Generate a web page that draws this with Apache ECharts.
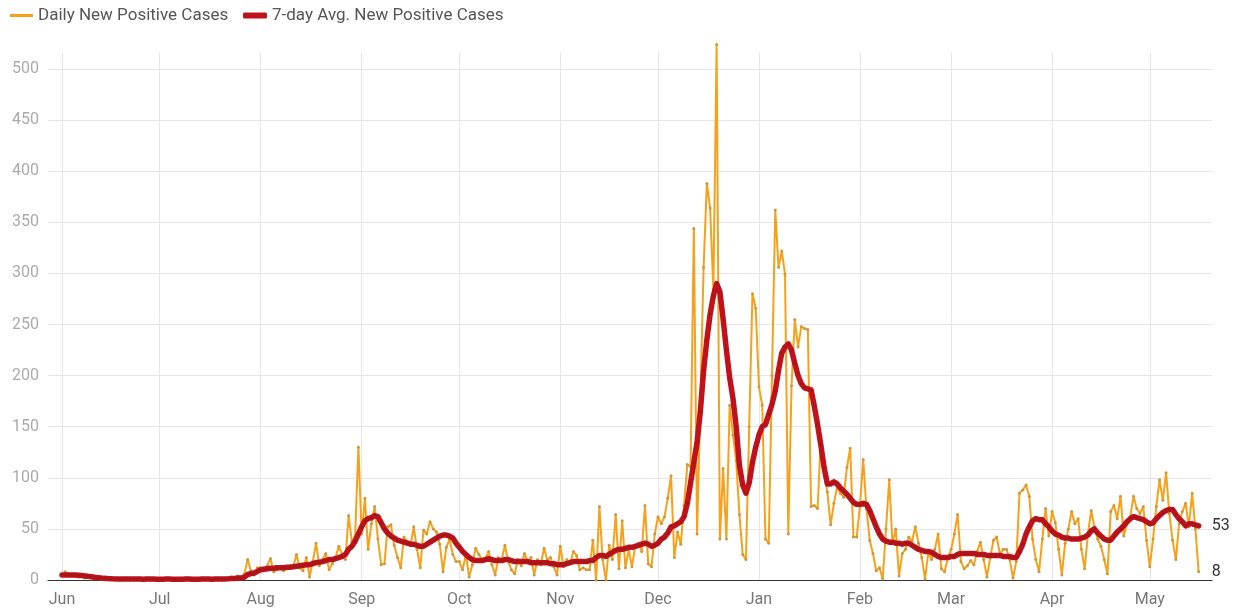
<!DOCTYPE html>
<html>
<head>
<meta charset="utf-8">
<script src="https://cdn.jsdelivr.net/npm/echarts@6/dist/echarts.min.js"></script>
<style>
html,body{margin:0;padding:0;background:#fff;}
#chart{width:1242px;height:612px;}
</style>
</head>
<body>
<div id="chart"></div>
<script>
// ---- Data (Jun 1, 2020 .. May 16, 2021), one value per day ----
const startYear = 2020, startMonth = 5; // June (0-based)
const monthLabels = ['Jun','Jul','Aug','Sep','Oct','Nov','Dec','Jan','Feb','Mar','Apr','May'];
const seriesNames = ['Daily New Positive Cases', '7-day Avg. New Positive Cases'];

// Daily new positive cases
const dailyJun = [5,8,6,4,5,3,4,2,3,1,2,2,1,0,1,2,0,1,1,0,2,1,0,1,0,1,2,0,1,0];
const dailyJul = [1,0,2,1,0,1,1,0,2,1,0,1,0,2,1,1,0,1,2,0,1,2,3,1,4,2,6,20,9,5,12];
const dailyAug = [12,9,14,21,8,10,12,9,11,14,13,25,12,9,22,3,18,36,14,20,26,10,16,22,33,25,20,63,38,42,130];
const dailySep = [45,80,30,55,72,40,15,16,52,54,34,22,12,42,38,34,52,30,12,49,45,57,50,47,35,8,32,40,25,18];
const dailyOct = [18,10,25,3,15,31,25,20,21,28,15,5,22,20,34,18,10,6,20,14,26,18,22,5,20,15,31,20,22,13,5];
const dailyNov = [33,13,20,16,28,24,10,12,10,10,39,0,72,20,0,34,20,64,11,58,12,30,13,33,36,28,73,16,13,45];
const dailyDec = [62,55,62,80,102,22,47,35,73,113,111,344,45,175,306,388,364,284,524,40,109,40,171,142,117,64,25,20,150,280,266];
const dailyJan = [189,171,40,36,200,362,306,322,299,45,190,255,228,248,246,245,72,73,70,140,104,86,54,75,91,85,81,110,129,42,42];
const dailyFeb = [72,118,70,39,26,9,12,1,50,98,36,50,4,26,30,42,38,52,36,22,1,27,20,30,45,11,8,22];
const dailyMar = [30,45,64,18,11,14,19,15,28,37,20,3,22,39,42,25,30,30,20,2,18,85,88,93,82,40,20,8,40,70,43];
const dailyApr = [67,56,30,5,36,50,67,55,60,30,11,45,68,52,40,33,20,6,67,73,60,82,43,55,62,82,70,65,72,39];
const dailyMay = [13,40,72,98,78,105,65,39,20,55,67,75,52,85,50,8];

// 7-day average new positive cases
const avgJun = [5,5,5,5,5,4.7,4.4,4,3.6,3.3,2.7,2.3,1.9,1.6,1.4,1.3,1.1,1,1,1,1,1,0.9,0.9,0.9,0.7,1,0.9,0.9,0.7];
const avgJul = [0.8,0.8,0.9,0.9,0.7,0.8,0.8,0.7,0.9,0.9,0.7,0.7,0.7,0.9,0.9,0.9,0.7,0.9,1,0.9,1,1.1,1.4,1.4,1.9,2,2.7,5.4,6.3,6.9,8.4];
const avgAug = [10,10.5,11,11.5,11.5,12,12,12,12.5,12.5,13,13.5,14,14.5,15,15,16,17,17.5,18,19,20,20,21,22,23,25,30,33,38,45];
const avgSep = [52,58,60,61,63,62,56,50,46,43,41,39,38,37,36,35,35,34,33,33,35,37,39,41,43,44,44,43,41,36];
const avgOct = [32,28,25,22,20,19,19,19,20,21,20,19,19,19,20,20,19,18,18,18,18,18,17,17,17,17,17,17,16,16,15];
const avgNov = [15,15,16,17,18,18,18,18,18,19,19,22,24,24,23,25,27,29,30,30,31,32,32,33,34,35,36,35,33,34];
const avgDec = [36,40,42,46,52,53,55,57,62,75,95,115,135,165,205,235,260,278,290,282,255,225,198,178,150,112,93,85,95,115,130];
const avgJan = [142,150,152,162,172,185,205,222,228,231,225,212,200,192,188,187,186,170,152,132,110,94,94,96,94,90,87,84,80,76,74];
const avgFeb = [74,75,74,68,60,52,45,40,38,37,37,36,36,35,36,36,34,32,30,29,28,28,27,25,23,22,22,22];
const avgMar = [23,23,25,26,26,26,26,26,25,25,25,24,24,24,24,24,23,23,23,22,22,28,35,45,52,58,60,59,59,55,52];
const avgApr = [48,45,44,42,41,41,40,40,40,41,42,44,48,50,46,43,40,39,39,43,47,50,53,57,60,62,61,60,59,57];
const avgMay = [55,56,60,63,66,68,69,69,64,60,57,53,55,55,54,53];

// ---- Build series from the arrays ----
const daily = [].concat(dailyJun,dailyJul,dailyAug,dailySep,dailyOct,dailyNov,dailyDec,dailyJan,dailyFeb,dailyMar,dailyApr,dailyMay);
const avg = [].concat(avgJun,avgJul,avgAug,avgSep,avgOct,avgNov,avgDec,avgJan,avgFeb,avgMar,avgApr,avgMay);
const DAY = 86400000;
const t0 = Date.UTC(startYear, startMonth, 1);
const monthStarts = monthLabels.map((m, i) => Math.round((Date.UTC(startYear, startMonth + i, 1) - t0) / DAY));
const dailyData = daily.map((v, i) => [i, v]);
const avgData = avg.map((v, i) => [i, v]);

const chart = echarts.init(document.getElementById('chart'), null, {renderer: 'canvas'});
const FONT = 'Roboto, "Noto Sans", sans-serif';
chart.setOption({
  animation: false,
  backgroundColor: '#ffffff',
  textStyle: {fontFamily: FONT},
  legend: [
    {
      data: [{name: seriesNames[0], itemStyle: {color: '#F7A11A'}}],
      left: 5, top: 2, icon: 'rect', itemWidth: 23, itemHeight: 3,
      textStyle: {color: '#555', fontSize: 17, fontFamily: FONT},
      selectedMode: false
    },
    {
      data: [{name: seriesNames[1], itemStyle: {color: '#C1121C'}}],
      left: 238, top: 2, icon: 'roundRect', itemWidth: 24, itemHeight: 6,
      textStyle: {color: '#555', fontSize: 17, fontFamily: FONT},
      selectedMode: false
    }
  ],
  grid: {left: 48, right: 30, top: 52.65, bottom: 32, containLabel: false},
  xAxis: {
    type: 'value',
    min: -4.3,
    max: 353.1,
    axisLine: {show: true, onZero: false, lineStyle: {color: '#333', width: 1}},
    axisTick: {show: false, customValues: monthStarts},
    axisLabel: {
      customValues: monthStarts,
      formatter: (v) => monthLabels[monthStarts.indexOf(Math.round(v))] || '',
      color: '#777', fontSize: 16, fontFamily: FONT, margin: 12
    },
    splitLine: {show: true, lineStyle: {color: '#e6e6e6', width: 1}}
  },
  yAxis: {
    type: 'value',
    min: 0,
    max: 516,
    interval: 50,
    axisLine: {show: false},
    axisTick: {show: false},
    axisLabel: {color: '#aaa', fontSize: 16, fontFamily: FONT, margin: 9, showMaxLabel: false},
    splitLine: {show: true, showMaxLine: false, lineStyle: {color: '#e6e6e6', width: 1}}
  },
  series: [
    {
      name: seriesNames[0],
      type: 'line',
      data: dailyData,
      clip: false,
      z: 2,
      showSymbol: true,
      symbol: 'circle',
      symbolSize: 3,
      itemStyle: {color: '#c99a3c'},
      lineStyle: {color: '#F7A11A', width: 2},
      endLabel: {show: true, formatter: (p) => String(p.value[1]), color: '#333', fontSize: 16, fontFamily: FONT, distance: 13},
      emphasis: {disabled: true}
    },
    {
      name: seriesNames[1],
      type: 'line',
      data: avgData,
      clip: false,
      z: 3,
      showSymbol: true,
      symbol: 'circle',
      symbolSize: 3,
      itemStyle: {color: '#a3161a'},
      lineStyle: {color: '#C1121C', width: 5.5, join: 'round', cap: 'round'},
      endLabel: {show: true, formatter: (p) => String(p.value[1]), color: '#333', fontSize: 16, fontFamily: FONT, distance: 13},
      emphasis: {disabled: true}
    }
  ]
});
</script>
</body>
</html>
